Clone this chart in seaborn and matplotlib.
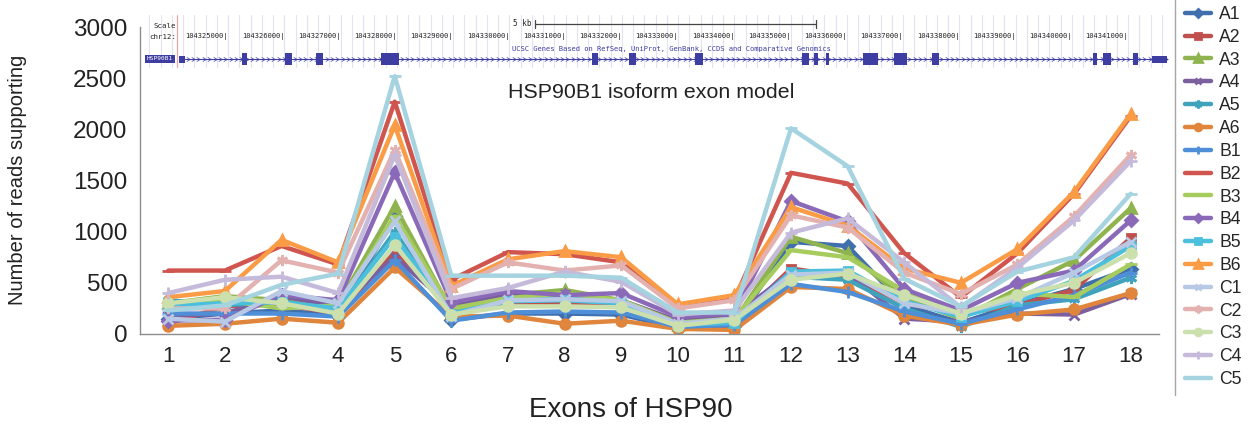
import numpy as np
import pandas as pd
import matplotlib
matplotlib.use("Agg")
import matplotlib.pyplot as plt
from matplotlib.patches import Rectangle
from matplotlib.lines import Line2D
from matplotlib.path import Path
import seaborn as sns

# ---- read counts per exon for each sample ----
exons = list(range(1, 19))
samples = ["A1", "A2", "A3", "A4", "A5", "A6",
           "B1", "B2", "B3", "B4", "B5", "B6",
           "C1", "C2", "C3", "C4", "C5"]

A1 = [150, 200, 230, 180, 1150, 140, 200, 200, 190, 60, 80, 900, 860, 280, 110, 290, 440, 640]
A2 = [100, 270, 290, 200, 800, 250, 300, 300, 280, 120, 110, 640, 560, 300, 200, 280, 430, 940]
A3 = [300, 370, 330, 290, 1250, 230, 380, 430, 330, 90, 130, 950, 790, 350, 150, 440, 720, 1230]
A4 = [180, 200, 370, 270, 750, 270, 400, 380, 330, 130, 180, 600, 600, 150, 120, 200, 190, 390]
A5 = [330, 280, 320, 230, 1000, 180, 330, 350, 310, 80, 100, 560, 530, 250, 70, 280, 340, 550]
A6 = [80, 100, 150, 110, 650, 170, 180, 100, 130, 50, 40, 460, 440, 180, 90, 190, 240, 400]
B1 = [200, 200, 200, 170, 720, 130, 210, 220, 210, 70, 90, 490, 410, 220, 100, 240, 380, 600]
B2 = [620, 620, 860, 680, 2270, 530, 800, 780, 700, 260, 340, 1575, 1470, 790, 360, 790, 1370, 2130]
B3 = [280, 330, 250, 280, 1150, 250, 350, 400, 330, 110, 150, 820, 750, 420, 180, 400, 360, 680]
B4 = [130, 140, 380, 330, 1580, 310, 420, 380, 400, 170, 200, 1300, 1100, 440, 230, 500, 620, 1110]
B5 = [280, 300, 310, 250, 950, 200, 320, 330, 300, 90, 110, 610, 620, 320, 170, 320, 520, 860]
B6 = [360, 420, 920, 700, 2040, 470, 730, 810, 750, 290, 380, 1240, 1060, 640, 500, 830, 1390, 2150]
C1 = [150, 120, 420, 300, 1100, 180, 330, 340, 320, 100, 150, 580, 600, 300, 200, 350, 600, 900]
C2 = [250, 250, 720, 600, 1800, 440, 700, 620, 670, 250, 330, 1160, 1040, 600, 390, 680, 1150, 1750]
C3 = [300, 360, 300, 200, 870, 190, 270, 270, 260, 80, 140, 530, 590, 380, 200, 380, 500, 790]
C4 = [400, 530, 560, 400, 1750, 350, 450, 610, 510, 190, 230, 990, 1130, 700, 260, 650, 1110, 1690]
C5 = [230, 280, 480, 590, 2520, 570, 570, 570, 550, 210, 210, 2010, 1640, 540, 270, 610, 750, 1370]

series = dict(A1=A1, A2=A2, A3=A3, A4=A4, A5=A5, A6=A6,
              B1=B1, B2=B2, B3=B3, B4=B4, B5=B5, B6=B6,
              C1=C1, C2=C2, C3=C3, C4=C4, C5=C5)

# ---- HSP90B1 gene structure (chr12 coordinates) ----
exon_starts = [104324130, 104325250, 104326010, 104326560, 104327720, 104331470,
               104332130, 104333300, 104335200, 104335420, 104335630, 104336290,
               104336840, 104337520, 104340380, 104340560, 104341090, 104341430]
exon_ends = [104324240, 104325340, 104326140, 104326690, 104328040, 104331580,
             104332250, 104333440, 104335330, 104335490, 104335690, 104336560,
             104337070, 104337640, 104340450, 104340700, 104341180, 104341700]
coord_ticks = list(range(104325000, 104341001, 1000))

colors = {
    "A1": "#3F6FAD", "A2": "#C0504D", "A3": "#8FB44F", "A4": "#7C5F9F",
    "A5": "#3FA3BC", "A6": "#E0853C",
    "B1": "#4F8FD8", "B2": "#D0554F", "B3": "#A6CC5E", "B4": "#8A6AB8",
    "B5": "#4BBFDC", "B6": "#F99C45",
    "C1": "#B8C9E5", "C2": "#E3B2B0", "C3": "#CCE0AE", "C4": "#C6BADA",
    "C5": "#A5D3E0",
}
asterisk = (6, 2, 0)
markers = {
    "A1": "D", "A2": "s", "A3": "^", "A4": "x", "A5": asterisk, "A6": "o",
    "B1": "+", "B2": "_", "B3": "_", "B4": "D", "B5": "s", "B6": "^",
    "C1": "x", "C2": asterisk, "C3": "o", "C4": "+", "C5": "_",
}
msizes = {"D": 6, "s": 6, "^": 7.5, "x": 7, "o": 7, "+": 8, "_": 8}

sns.set_style("white")
plt.rcParams["font.family"] = ["Liberation Sans", "DejaVu Sans"]

W, H = 1260, 437
fig = plt.figure(figsize=(W / 100, H / 100), dpi=100)
ax = fig.add_axes([140 / W, 1 - 334 / H, 1019 / W, 307 / H])

for name in samples:
    m = markers[name]
    ms = msizes.get(m, 7) if isinstance(m, str) else 8
    sns.lineplot(x=exons, y=series[name], ax=ax, color=colors[name],
                 marker=m, markersize=ms, markeredgecolor=colors[name],
                 markerfacecolor=colors[name], markeredgewidth=2,
                 linewidth=3.2, label=name)
if ax.get_legend() is not None:
    ax.get_legend().remove()

ax.set_xlim(0.5, 18.5)
ax.set_ylim(0, 3000)
ax.set_yticks(range(0, 3001, 500))
ax.set_xticks(exons)
ax.set_xticks(np.arange(0.5, 19, 1), minor=True)
ax.set_xlabel("")
ax.set_ylabel("")
ax.tick_params(axis="x", which="major", length=0, labelsize=16, pad=9, colors="#222222")
ax.tick_params(axis="x", which="minor", length=7, width=1, color="#8C8C8C")
ax.tick_params(axis="y", length=0, labelsize=17.5, pad=9, colors="#222222")
for s in ["top", "right"]:
    ax.spines[s].set_visible(False)
for s in ["left", "bottom"]:
    ax.spines[s].set_color("#8C8C8C")
    ax.spines[s].set_linewidth(1)
ax.grid(False)

fig.text(18 / W, 1 - 180 / H, "Number of reads supporting", rotation=90,
         ha="center", va="center", fontsize=14.5, color="#222222")
fig.text(631 / W, 1 - 410 / H, "Exons of HSP90", ha="center", va="center",
         fontsize=20, color="#222222")
fig.text(651 / W, 1 - 93 / H, "HSP90B1 isoform exon model", ha="center",
         va="center", fontsize=15.4, color="#222222")

# ---- gene model track ----
px_per_kb = 56.25
g_ref_px = 228


def gpos(px):
    return 104325000 + (px - g_ref_px) / px_per_kb * 1000


tr = fig.add_axes([143 / W, 1 - 68 / H, 1029 / W, 56 / H])
tr.set_xlim(gpos(143), gpos(1172))
tr.set_ylim(56, 0)
tr.axis("off")

mono = "DejaVu Sans Mono"
blue = "#3E3EA2"
for gx in np.arange(104323600, 104341800, 200):
    tr.plot([gx, gx], [3, 56], color="#E2E2F2", lw=0.8, zorder=0)
tr.plot([gpos(177)] * 2, [3, 56], color="#F0A0A0", lw=0.8, zorder=1)

tr.text(gpos(176), 14, "Scale", ha="right", va="center", fontsize=5.3,
        family=mono, color="#222222")
tr.text(gpos(176), 25, "chr12:", ha="right", va="center", fontsize=5.3,
        family=mono, color="#222222")
for k in coord_ticks:
    tr.text(k, 25, f"{k}|", ha="right", va="center", fontsize=5.1,
            family=mono, color="#222222")

bar0, bar1 = 104330450, 104335450
tr.plot([bar0, bar1], [12, 12], color="#444444", lw=0.9)
tr.plot([bar0, bar0], [8, 16], color="#444444", lw=0.9)
tr.plot([bar1, bar1], [8, 16], color="#444444", lw=0.9)
tr.text(bar0 - 60, 12, "5 kb", ha="right", va="center", fontsize=5.5,
        family=mono, color="#222222")
tr.text(104330050, 37,
        "UCSC Genes Based on RefSeq, UniProt, GenBank, CCDS and Comparative Genomics",
        ha="left", va="center", fontsize=5.1, family=mono, color=blue)

tx0, tx1 = exon_starts[0], exon_ends[-1]
tr.plot([tx0, tx1], [47, 47], color=blue, lw=0.8, zorder=2)
chevron = Path([(-0.5, 0.6), (0.5, 0.0), (-0.5, -0.6)],
               [Path.MOVETO, Path.LINETO, Path.LINETO])
cx = np.arange(tx0 + 60, tx1, 95)
tr.plot(cx, np.full_like(cx, 47.0, dtype=float), ls="none", marker=chevron,
        markersize=3, markerfacecolor="none", markeredgecolor=blue,
        markeredgewidth=0.5, zorder=2)
for i, (s, e) in enumerate(zip(exon_starts, exon_ends)):
    utr = i in (0, len(exon_starts) - 1)
    y0, h = (43.5, 7) if utr else (41, 12)
    tr.add_patch(Rectangle((s, y0), e - s, h, facecolor=blue, edgecolor="none", zorder=3))
tr.text(gpos(160), 47, "HSP90B1", ha="center", va="center", fontsize=4.4,
        family=mono, color="white", zorder=4,
        bbox=dict(facecolor=blue, edgecolor="none", pad=1.2))

# chart frame edge
fig.add_artist(Line2D([1175 / W, 1175 / W], [1.0, 1 - 395 / H], color="#A6A6A6", lw=1))

handles, labels = ax.get_legend_handles_labels()
fig.legend(handles, labels, loc="upper left", bbox_to_anchor=(1185 / W, 1 - 6 / H),
           frameon=False, fontsize=12.7, handlelength=1.5, handletextpad=0.45,
           labelspacing=0.33, borderaxespad=0, borderpad=0, markerscale=0.7)

fig.savefig("out.png", dpi=100, facecolor="white")
